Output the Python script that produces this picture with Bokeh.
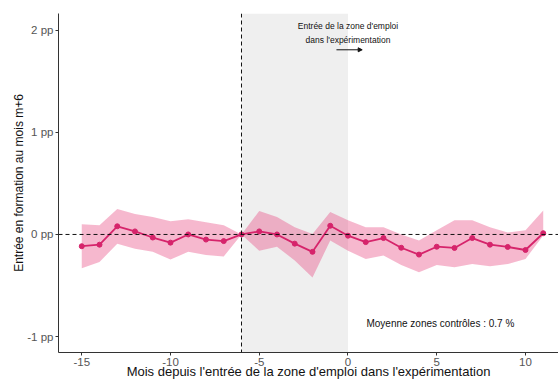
from bokeh.plotting import figure
from bokeh.models import (ColumnDataSource, Range1d, FixedTicker, BoxAnnotation, Span,
                          Label, Arrow, NormalHead)
from bokeh.embed import file_html
from bokeh.resources import INLINE

# ---- data ----
months = list(range(-15, 12))
estimate = [-0.115, -0.10, 0.08, 0.03, -0.03, -0.08, 0.00, -0.05, -0.065, 0.0,
            0.03, 0.0, -0.09, -0.17, 0.085, -0.012, -0.075, -0.035, -0.13, -0.197,
            -0.12, -0.132, -0.035, -0.10, -0.122, -0.152, 0.012]
ci_lower = [-0.33, -0.27, -0.09, -0.14, -0.17, -0.245, -0.17, -0.20, -0.215, 0.0,
            -0.16, -0.12, -0.255, -0.42, -0.06, -0.16, -0.24, -0.205, -0.30, -0.37,
            -0.30, -0.32, -0.29, -0.31, -0.29, -0.24, -0.01]
ci_upper = [0.10, 0.09, 0.25, 0.20, 0.17, 0.13, 0.15, 0.12, 0.09, 0.0,
            0.23, 0.17, 0.07, 0.005, 0.22, 0.14, 0.07, 0.07, 0.0, -0.06,
            0.04, 0.14, 0.14, 0.07, 0.02, 0.04, 0.235]

x_ticks = [-15, -10, -5, 0, 5, 10]
x_tick_labels = ["-15", "-10", "-5", "0", "5", "10"]
y_ticks = [-1, 0, 1, 2]
y_tick_labels = ["-1 pp", "0 pp", "1 pp", "2 pp"]

reference_month = -6      # vertical dashed line
entry_window_end = 0      # end of grey shaded window
annotation_text = ["Entrée de la zone d'emploi", "dans l'expérimentation"]
control_mean_text = "Moyenne zones contrôles : 0.7 %"
x_label = "Mois depuis l'entrée de la zone d'emploi dans l'expérimentation"
y_label = "Entrée en formation au mois m+6"

FONT = "Liberation Sans"
LINE_COLOR = "#D6246B"
INK = "#111111"

src = ColumnDataSource(dict(x=months, y=estimate, lo=ci_lower, hi=ci_upper))

p = figure(width=558, height=381, output_backend="svg", toolbar_location=None,
           x_range=Range1d(-16.31, 11.86), y_range=Range1d(-1.155, 2.162),
           min_border_left=58, min_border_right=0, min_border_top=13, min_border_bottom=29)
p.outline_line_color = None
p.xgrid.visible = False
p.ygrid.visible = False
p.background_fill_color = "white"
p.border_fill_color = "white"

# grey window
p.add_layout(BoxAnnotation(left=reference_month, right=entry_window_end,
                           fill_color="#EFEFEF", fill_alpha=1.0, line_color=None,
                           level="underlay"))

# confidence band
p.varea(x="x", y1="lo", y2="hi", source=src, fill_color="#E8457E", fill_alpha=0.38)

# reference lines
p.add_layout(Span(location=0, dimension="width", line_color=INK,
                  line_dash="4 3", line_width=1))
p.add_layout(Span(location=reference_month, dimension="height", line_color=INK,
                  line_dash="4 3", line_width=1))

# estimate line and points
p.line(x="x", y="y", source=src, line_color=LINE_COLOR, line_width=1.8)
p.scatter(x="x", y="y", source=src, size=5, fill_color=LINE_COLOR, line_color=LINE_COLOR)

# annotations
p.add_layout(Label(x=0, y=2.035, text=annotation_text[0], text_align="center",
                   text_baseline="middle", text_font=FONT, text_font_size="8.5px",
                   text_color=INK))
p.add_layout(Label(x=0, y=1.905, text=annotation_text[1], text_align="center",
                   text_baseline="middle", text_font=FONT, text_font_size="8.5px",
                   text_color=INK))
p.add_layout(Arrow(x_start=-0.65, y_start=1.807, x_end=0.8, y_end=1.807,
                   line_color=INK, line_width=1,
                   end=NormalHead(size=4, fill_color=INK, line_color=INK)))
p.add_layout(Label(x=1.04, y=-0.874, text=control_mean_text, text_align="left",
                   text_baseline="middle", text_font=FONT, text_font_size="10px",
                   text_color=INK))

# axes
p.xaxis.ticker = FixedTicker(ticks=x_ticks)
p.xaxis.major_label_overrides = dict(zip(x_ticks, x_tick_labels))
p.yaxis.ticker = FixedTicker(ticks=y_ticks)
p.yaxis.major_label_overrides = dict(zip(y_ticks, y_tick_labels))
for ax in (p.xaxis, p.yaxis):
    ax.axis_line_color = "#333333"
    ax.axis_line_width = 1
    ax.major_tick_line_color = "#333333"
    ax.major_tick_in = 0
    ax.major_tick_out = 3
    ax.minor_tick_line_color = None
    ax.major_label_text_font = FONT
    ax.major_label_text_font_size = "11.5px"
    ax.major_label_text_color = "#555555"
    ax.major_label_standoff = 2
    ax.axis_label_text_font = FONT
    ax.axis_label_text_font_style = "normal"
    ax.axis_label_text_color = INK
p.xaxis.axis_label = x_label
p.xaxis.axis_label_text_font_size = "13px"
p.xaxis.axis_label_standoff = -5
p.yaxis.axis_label = y_label
p.yaxis.axis_label_text_font_size = "12px"
p.yaxis.axis_label_standoff = -2

open("out.html", "w").write(file_html(p, INLINE))
